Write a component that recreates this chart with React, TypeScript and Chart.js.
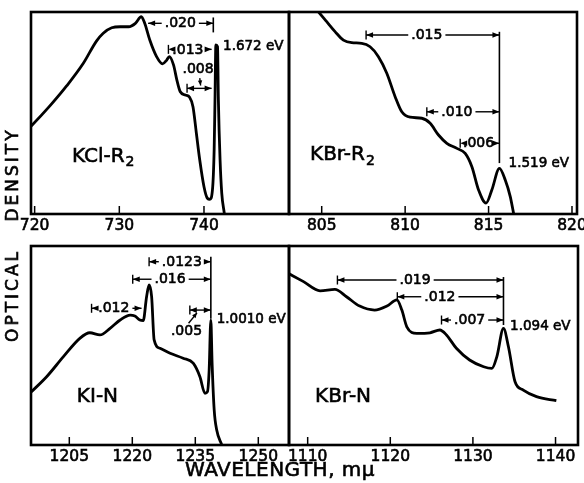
import React, { useEffect, useRef } from 'react';
import { Chart, registerables } from 'chart.js';
Chart.register(...registerables);

const W = 584;
const H = 483;
const AXIS_H = 30;
const FONT = '"DejaVu Sans", sans-serif';
const TEXT_STROKE = 0.6;

// ---------- data (wavelength in mμ, relative optical density 0–100) ----------
const kclWavelength = [719.4, 719.6, 721.8, 723.8, 725.75, 727.3, 728.1, 729.1, 730.1, 731.1, 731.9, 732.6, 733.0, 733.6, 734.4, 735.1, 735.6, 735.9, 736.4, 736.8, 737.2, 737.8, 738.3, 738.7, 739.1, 739.5, 740.0, 740.4, 740.7, 741.0, 741.2, 741.3, 741.4, 741.6, 741.7, 741.9, 742.1, 742.4];
const kclDensity = [42.8, 43.6, 53.5, 63.5, 74.6, 85.6, 89.5, 92.2, 92.7, 92.7, 94.4, 97.7, 94.4, 86.1, 77.9, 74.3, 76.2, 77.9, 73.8, 66.3, 60.5, 58.9, 57.8, 53.1, 40, 26.7, 13.5, 7.8, 7.3, 11.9, 31.7, 56.4, 83.7, 82.8, 56.4, 26.7, 10.2, 0.3];

const kbrRWavelength = [804.6, 804.8, 805.3, 805.8, 806.3, 806.8, 807.4, 807.9, 808.4, 808.9, 809.4, 809.8, 810.3, 811.0, 811.5, 812.0, 812.5, 813.1, 813.6, 814.0, 814.4, 814.85, 815.2, 815.65, 816.0, 816.3, 816.5];
const kbrRDensity = [102, 100.1, 95.2, 90.3, 86.1, 84.8, 84.5, 82.8, 77.9, 69.7, 58.1, 50.6, 47.9, 47.4, 44.9, 39.1, 35, 32.5, 30, 23.4, 11.9, 5.4, 12, 22.6, 16.8, 8.6, 0.3];

const kiWavelength = [1195.7, 1199.6, 1203.6, 1207.5, 1209.9, 1212.3, 1214.7, 1217.1, 1219.5, 1220.6, 1221.8, 1222.6, 1223.4, 1224.0, 1224.6, 1225.2, 1226.6, 1229.0, 1232.1, 1234.5, 1236.1, 1237.3, 1237.9, 1238.3, 1238.7, 1239.0, 1239.5, 1240.1, 1241.3];
const kiDensity = [26.2, 34.3, 44.4, 53.6, 56.4, 55.3, 58.6, 62.8, 65.3, 64.8, 62.8, 62.5, 74.5, 80.4, 74.5, 52.8, 48.6, 46.1, 43.6, 41.1, 34.3, 26, 26.8, 37.7, 62.8, 41.1, 17.6, 7.5, 0];

const kbrNWavelength = [1107.6, 1109.5, 1111.5, 1113.3, 1114.7, 1116.3, 1118.1, 1119.6, 1120.8, 1121.4, 1122.0, 1123.2, 1124.8, 1126.0, 1126.8, 1128.0, 1129.6, 1131.3, 1132.3, 1132.9, 1133.7, 1134.3, 1135.1, 1136.1, 1137.7, 1140.1];
const kbrNDensity = [86.4, 82.1, 77.5, 78.2, 74.5, 69.8, 67.8, 69.8, 72.9, 67.8, 59.4, 56.1, 56.4, 57.8, 55.3, 48.6, 42.7, 39.3, 38.5, 44.4, 58.6, 49.4, 31.8, 27.6, 24.3, 22.3];

const kclTicks = [720, 730, 740];
const kbrRTicks = [805, 810, 815, 820];
const kiTicks = [1205, 1220, 1235, 1250];
const kbrNTicks = [1110, 1120, 1130, 1140];

// energy spacing brackets: [from λ, to λ, height, label, label λ, left bar]
const kclSpacings: [number, number, number, string, number, boolean][] = [
  [733.4, 741.1, 94.4, '.020', 737.2, false],
  [735.8, 740.9, 81.5, '.013', 738.1, true],
  [738.0, 740.9, 62.2, '', 739.4, true],
];
const kbrRSpacings: [number, number, number, string, number, boolean][] = [
  [807.66, 815.65, 88.6, '.015', 811.3, true],
  [811.3, 815.65, 50.6, '.010', 813.1, true],
  [813.3, 815.65, 35.0, '.006', 814.4, true],
];
const kiSpacings: [number, number, number, string, number, boolean][] = [
  [1224.0, 1238.7, 92.1, '.0123', 1231.8, true],
  [1220.1, 1238.7, 83.3, '.016', 1229.0, true],
  [1210.3, 1222.2, 68.7, '.012', 1215.6, true],
  [1233.7, 1238.7, 67.8, '', 1236.0, true],
];
const kbrNSpacings: [number, number, number, string, number, boolean][] = [
  [1113.6, 1133.7, 82.9, '.019', 1123.0, true],
  [1120.85, 1133.7, 74.5, '.012', 1126.0, true],
  [1126.2, 1133.7, 62.8, '.007', 1129.6, true],
];

// vertical marker at main line: [λ, from, to]
const kclPeakMark = [741.1, 89.9, 97.3];
const kbrRPeakMark = [815.65, 25.2, 90.2];
const kiPeakMark = [1238.7, 63.5, 94.6];
const kbrNPeakMark = [1133.7, 60.3, 84.4];

// energies
const kclEnergy = ['1.672 eV', 742.25, 82.8];
const kbrREnergy = ['1.519 eV', 816.2, 25.1];
const kiEnergy = ['1.0010 eV', 1240.1, 63.2];
const kbrNEnergy = ['1.094 eV', 1134.5, 59.4];

// sample names
const kclName = ['KCl-R', '2', 724.4, 28.4];
const kbrRName = ['KBr-R', '2', 804.3, 29.2];
const kiName = ['KI-N', '', 1206.8, 24.3];
const kbrNName = ['KBr-N', '', 1110.9, 24.3];

// pointer labels: [text, label λ, label y, from λ, from y, to λ, to y]
const kclPointer = ['.008', 739.3, 71.6, 739.5, 67.3, 739.6, 63.6];
const kiPointer = ['.005', 1232.9, 56.9, 1233.4, 61.2, 1235.4, 66.4];

// ---------- layout ----------
interface Panel {
  wl: number[]; val: number[]; ticks: number[]; min: number; max: number;
  box: { left: number; top: number; right: number; bottom: number };
  spacings: [number, number, number, string, number, boolean][];
  mark: number[]; energy: any[]; name: any[]; pointer?: any[];
}

const PANELS: Panel[] = [
  { wl: kclWavelength, val: kclDensity, ticks: kclTicks, min: 719.57, max: 750.04,
    box: { left: 31, top: 12, right: 289, bottom: 214 }, spacings: kclSpacings, mark: kclPeakMark,
    energy: kclEnergy, name: kclName, pointer: kclPointer },
  { wl: kbrRWavelength, val: kbrRDensity, ticks: kbrRTicks, min: 803.04, max: 820.3,
    box: { left: 289, top: 12, right: 577, bottom: 214 }, spacings: kbrRSpacings, mark: kbrRPeakMark,
    energy: kbrREnergy, name: kbrRName },
  { wl: kiWavelength, val: kiDensity, ticks: kiTicks, min: 1195.88, max: 1257.31,
    box: { left: 31, top: 246, right: 289, bottom: 445 }, spacings: kiSpacings, mark: kiPeakMark,
    energy: kiEnergy, name: kiName, pointer: kiPointer },
  { wl: kbrNWavelength, val: kbrNDensity, ticks: kbrNTicks, min: 1107.74, max: 1142.72,
    box: { left: 289, top: 246, right: 578, bottom: 445 }, spacings: kbrNSpacings, mark: kbrNPeakMark,
    energy: kbrNEnergy, name: kbrNName },
];

function arrowHead(ctx: CanvasRenderingContext2D, tx: number, ty: number, angle: number, len = 7, half = 2.8) {
  ctx.save();
  ctx.translate(tx, ty);
  ctx.rotate(angle);
  ctx.beginPath();
  ctx.moveTo(0, 0);
  ctx.lineTo(-len, -half);
  ctx.lineTo(-len, half);
  ctx.closePath();
  ctx.fill();
  ctx.restore();
}

function seg(ctx: CanvasRenderingContext2D, x1: number, y1: number, x2: number, y2: number) {
  ctx.beginPath();
  ctx.moveTo(x1, y1);
  ctx.lineTo(x2, y2);
  ctx.stroke();
}

function text(ctx: CanvasRenderingContext2D, s: string, x: number, y: number) {
  ctx.fillText(s, x, y);
  const lw = ctx.lineWidth;
  ctx.lineWidth = TEXT_STROKE;
  ctx.strokeText(s, x, y);
  ctx.lineWidth = lw;
}

function annotPlugin(p: Panel, global: boolean) {
  return {
    id: 'annot',
    afterDraw(chart: any) {
      const ctx: CanvasRenderingContext2D = chart.ctx;
      const a = chart.chartArea;
      const xs = chart.scales.x;
      const ys = chart.scales.y;
      const X = (v: number) => xs.getPixelForValue(v);
      const Y = (v: number) => ys.getPixelForValue(v);
      ctx.save();
      ctx.strokeStyle = '#000';
      ctx.fillStyle = '#000';
      // frame
      ctx.lineWidth = 2.6;
      ctx.strokeRect(a.left, a.top, a.right - a.left, a.bottom - a.top);
      // inner tick marks
      ctx.lineWidth = 1.5;
      p.ticks.forEach((t) => {
        const px = X(t);
        seg(ctx, px, a.bottom, px, a.bottom - 8);
      });
      // peak marker
      ctx.lineWidth = 1.6;
      seg(ctx, X(p.mark[0]), Y(p.mark[1]), X(p.mark[0]), Y(p.mark[2]));
      // brackets
      ctx.font = `14px ${FONT}`;
      ctx.textAlign = 'center';
      ctx.textBaseline = 'middle';
      ctx.lineWidth = 1.4;
      for (const [from, to, at, label, labelAt, leftBar] of p.spacings) {
        const x1 = X(from), x2 = X(to), y = Y(at), tx = X(labelAt);
        if (label) {
          const w = ctx.measureText(label).width;
          const gl = tx - w / 2 - 3, gr = tx + w / 2 + 3;
          if (gl > x1 + 1) seg(ctx, x1, y, gl, y);
          if (x2 > gr + 1) seg(ctx, gr, y, x2, y);
          text(ctx, label, tx, y + 0.5);
        } else {
          seg(ctx, x1, y, x2, y);
        }
        arrowHead(ctx, x1, y, Math.PI);
        arrowHead(ctx, x2, y, 0);
        if (leftBar) seg(ctx, x1, y - 4.5, x1, y + 4.5);
      }
      // pointer label
      if (p.pointer) {
        const [label, lx, ly, fx, fy, tx, ty] = p.pointer;
        text(ctx, label, X(lx), Y(ly));
        const X1 = X(fx), Y1 = Y(fy), X2 = X(tx), Y2 = Y(ty);
        seg(ctx, X1, Y1, X2, Y2);
        arrowHead(ctx, X2, Y2, Math.atan2(Y2 - Y1, X2 - X1), 5, 2.2);
      }
      // energy label
      ctx.textAlign = 'left';
      ctx.font = `13.5px ${FONT}`;
      text(ctx, p.energy[0], X(p.energy[1]), Y(p.energy[2]));
      // sample name
      ctx.font = `20px ${FONT}`;
      const nx = X(p.name[2]), ny = Y(p.name[3]);
      text(ctx, p.name[0], nx, ny);
      if (p.name[1]) {
        const w = ctx.measureText(p.name[0]).width;
        ctx.font = `14px ${FONT}`;
        text(ctx, p.name[1], nx + w + 1, ny + 6);
      }
      if (global) {
        ctx.textAlign = 'center';
        ctx.font = `17px ${FONT}`;
        (ctx as any).letterSpacing = '3px';
        ctx.save();
        ctx.translate(14, 176);
        ctx.rotate(-Math.PI / 2);
        text(ctx, 'DENSITY', 1.5, 0);
        ctx.restore();
        ctx.save();
        ctx.translate(14, 297);
        ctx.rotate(-Math.PI / 2);
        text(ctx, 'OPTICAL', 1.5, 0);
        ctx.restore();
        (ctx as any).letterSpacing = '0.5px';
        ctx.font = `20px ${FONT}`;
        text(ctx, 'WAVELENGTH, mμ', 280, 471);
      }
      ctx.restore();
    },
  };
}

function makeConfig(p: Panel, global: boolean): any {
  return {
    type: 'line',
    data: {
      datasets: [
        {
          data: p.wl.map((x, i) => ({ x, y: p.val[i] })),
          borderColor: '#000',
          borderWidth: 2.8,
          pointRadius: 0,
          cubicInterpolationMode: 'monotone',
          fill: false,
        },
      ],
    },
    options: {
      animation: false,
      responsive: false,
      maintainAspectRatio: false,
      devicePixelRatio: 1,
      events: [],
      layout: {
        padding: { left: p.box.left, top: p.box.top, right: W - p.box.right, bottom: H - p.box.bottom - AXIS_H },
      },
      scales: {
        x: {
          type: 'linear',
          min: p.min,
          max: p.max,
          grid: { display: false, drawTicks: false },
          border: { display: false },
          afterBuildTicks: (s: any) => {
            s.ticks = p.ticks.map((v) => ({ value: v }));
          },
          afterFit: (s: any) => {
            s.height = AXIS_H;
            s.paddingLeft = 0;
            s.paddingRight = 0;
          },
          ticks: {
            color: '#000',
            font: { family: 'DejaVu Sans', size: 15.5 },
            textStrokeColor: '#000',
            textStrokeWidth: TEXT_STROKE,
            padding: 3,
            maxRotation: 0,
            minRotation: 0,
            autoSkip: false,
            callback: (v: any) => String(v),
          },
        },
        y: { display: false, min: 0, max: 100 },
      },
      plugins: { legend: { display: false }, tooltip: { enabled: false } },
    },
    plugins: [annotPlugin(p, global)],
  };
}

function PanelChart({ panel, global }: { panel: Panel; global: boolean }) {
  const ref = useRef<HTMLCanvasElement>(null);
  useEffect(() => {
    const chart = new Chart(ref.current as HTMLCanvasElement, makeConfig(panel, global));
    return () => chart.destroy();
  }, [panel, global]);
  return (
    <canvas
      ref={ref}
      width={W}
      height={H}
      style={{ position: 'absolute', left: 0, top: 0, width: W, height: H }}
    />
  );
}

export default function App() {
  return (
    <div style={{ position: 'fixed', left: 0, top: 0, width: W, height: H, background: '#fff', overflow: 'hidden' }}>
      {PANELS.map((p, i) => (
        <PanelChart key={i} panel={p} global={i === 0} />
      ))}
    </div>
  );
}
